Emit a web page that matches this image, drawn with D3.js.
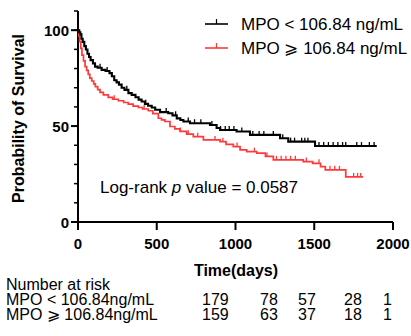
<!DOCTYPE html>
<html>
<head>
<meta charset="utf-8">
<script src="https://cdn.jsdelivr.net/npm/d3@7"></script>
<style>
  body { margin: 0; background: #fff; }
  text { font-family: "Liberation Sans", Arial, sans-serif; fill: #000; }
  .tick-label { font-weight: bold; font-size: 15px; }
  .axis-title { font-weight: bold; font-size: 16px; }
  .risk { font-size: 16px; }
</style>
</head>
<body>
<svg id="chart" width="411" height="336"></svg>
<script>
// Kaplan-Meier steps: [time (days), survival %]
const lowSteps = [
  [0, 100], [8, 98.9], [15, 97.8], [22, 95.5], [30, 93.9], [40, 91.7], [50, 89.9],
  [60, 87.7], [70, 86.0], [80, 84.4], [95, 82.7], [108, 81.0], [125, 80.4],
  [150, 79.3], [175, 78.7], [200, 77.6], [215, 76.0], [230, 73.9], [245, 72.8],
  [260, 71.6], [277, 70.0], [295, 68.9], [320, 67.2], [341, 66.3], [365, 65.0],
  [385, 63.8], [404, 62.8], [425, 61.6], [445, 60.6], [468, 59.7], [490, 58.5],
  [521, 57.3], [573, 56.7], [600, 55.6], [627, 54.0], [650, 53.2], [669, 52.4],
  [711, 51.5], [838, 50.6], [880, 49.0], [902, 48.0], [1007, 47.2], [1092, 45.4],
  [1283, 43.7], [1335, 41.9], [1505, 39.6]
];
const lowEnd = 1897;
const lowCensor = [140, 185, 310, 430, 560, 620, 700, 740, 780, 850, 905, 935, 960,
  990, 1040, 1110, 1150, 1180, 1240, 1300, 1350, 1375, 1420, 1440, 1460, 1530, 1560,
  1590, 1620, 1650, 1680, 1700, 1770, 1800, 1850, 1880];

const highSteps = [
  [0, 100], [5, 97], [10, 94], [18, 90.5], [25, 87], [35, 84], [45, 81], [55, 79],
  [65, 77], [75, 75], [87, 73.5], [100, 72], [110, 70.6], [125, 69], [140, 67.6],
  [161, 66.3], [192, 65], [220, 64], [256, 63.2], [290, 62.3], [319, 61.4],
  [350, 60.4], [383, 59.7], [410, 58.9], [446, 58.0], [475, 56.5], [510, 54.1],
  [530, 53.2], [552, 52.4], [584, 49.8], [615, 48.5], [648, 47.2], [690, 45.8],
  [732, 44.5], [796, 42.8], [902, 41.9], [940, 40.5], [986, 39.3], [1029, 37.6],
  [1071, 36.7], [1135, 35.9], [1190, 34.2], [1240, 32.4], [1430, 31.5],
  [1490, 30.6], [1540, 28.9], [1570, 27.2], [1700, 23.5]
];
const highEnd = 1810;
const highCensor = [230, 420, 650, 700, 760, 870, 920, 1010, 1120, 1200, 1260, 1290,
  1320, 1350, 1380, 1450, 1530, 1600, 1630, 1660, 1750, 1775, 1795];

const xTicks = [0, 500, 1000, 1500, 2000];
const yTicks = [0, 50, 100];
const yMinor = d3.range(0, 111, 10);

const legendLabels = ["MPO < 106.84 ng/mL", "MPO \u2A7E 106.84 ng/mL"];
const riskRows = ["MPO < 106.84ng/mL", "MPO \u2A7E 106.84ng/mL"];
const riskLow = [179, 78, 57, 28, 1];
const riskHigh = [159, 63, 37, 18, 1];

const colors = ["#000000", "#ff3838"];

const svg = d3.select("#chart");

const x = d3.scaleLinear().domain([0, 2000]).range([78, 393]);
const y = d3.scaleLinear().domain([0, 110]).range([222, 11]);

// axes
const yAxis = svg.append("g").attr("transform", `translate(${x(0)},0)`);
yAxis.append("line")
  .attr("y1", y(0)).attr("y2", y(110))
  .attr("stroke", "#000").attr("stroke-width", 2);
yAxis.selectAll(".minor")
  .data(yMinor)
  .enter().append("line")
  .attr("x1", -4).attr("x2", 0)
  .attr("y1", d => y(d)).attr("y2", d => y(d))
  .attr("stroke", "#000").attr("stroke-width", 1.5);
yAxis.selectAll(".major")
  .data(yTicks)
  .enter().append("line")
  .attr("x1", -7).attr("x2", 0)
  .attr("y1", d => y(d)).attr("y2", d => y(d))
  .attr("stroke", "#000").attr("stroke-width", 2);
yAxis.selectAll(".ylab")
  .data(yTicks)
  .enter().append("text")
  .attr("class", "tick-label")
  .attr("x", -9)
  .attr("y", d => y(d) + 5.5)
  .attr("text-anchor", "end")
  .text(d => d);

const xAxis = svg.append("g").attr("transform", `translate(0,${y(0)})`);
xAxis.append("line")
  .attr("x1", x(0) - 1).attr("x2", x(2000))
  .attr("stroke", "#000").attr("stroke-width", 2);
xAxis.selectAll(".xt")
  .data(xTicks)
  .enter().append("line")
  .attr("x1", d => x(d)).attr("x2", d => x(d))
  .attr("y1", 0).attr("y2", 8)
  .attr("stroke", "#000").attr("stroke-width", 2);
xAxis.selectAll(".xlab")
  .data(xTicks)
  .enter().append("text")
  .attr("class", "tick-label")
  .attr("x", d => x(d))
  .attr("y", 27)
  .attr("text-anchor", "middle")
  .text(d => d);

svg.append("text")
  .attr("class", "axis-title")
  .attr("transform", `translate(24,${y(54)}) rotate(-90)`)
  .attr("text-anchor", "middle")
  .text("Probability of Survival");

svg.append("text")
  .attr("class", "axis-title")
  .attr("x", 236).attr("y", 276)
  .attr("text-anchor", "middle")
  .text("Time(days)");

// curves
const stepLine = d3.line()
  .x(d => x(d[0]))
  .y(d => y(d[1]))
  .curve(d3.curveStepAfter);

function survivalAt(steps, t) {
  const i = d3.bisector(d => d[0]).right(steps, t) - 1;
  return steps[Math.max(0, i)][1];
}

function drawCurve(steps, end, censor, color, width) {
  const pts = steps.concat([[end, steps[steps.length - 1][1]]]);
  svg.append("path")
    .datum(pts)
    .attr("fill", "none")
    .attr("stroke", color)
    .attr("stroke-width", width)
    .attr("d", stepLine);
  svg.append("g").selectAll("line")
    .data(censor)
    .enter().append("line")
    .attr("x1", d => x(d)).attr("x2", d => x(d))
    .attr("y1", d => y(survivalAt(steps, d)))
    .attr("y2", d => y(survivalAt(steps, d)) - 4)
    .attr("stroke", color)
    .attr("stroke-width", 1.3);
}

drawCurve(highSteps, highEnd, highCensor, colors[1], 1.7);
drawCurve(lowSteps, lowEnd, lowCensor, colors[0], 2.1);

// legend
const legend = svg.append("g").selectAll("g")
  .data(legendLabels)
  .enter().append("g")
  .attr("transform", (d, i) => `translate(205,${24 + i * 24})`);
legend.append("line")
  .attr("x1", 0).attr("x2", 23)
  .attr("stroke", (d, i) => colors[i]).attr("stroke-width", 1.6);
legend.append("line")
  .attr("x1", 11.5).attr("x2", 11.5).attr("y1", 0).attr("y2", -5)
  .attr("stroke", (d, i) => colors[i]).attr("stroke-width", 1.2);
legend.append("text")
  .attr("x", 36).attr("y", 6)
  .style("font-size", "17px")
  .text(d => d);

svg.append("text")
  .attr("x", 100).attr("y", 193)
  .style("font-size", "17px")
  .html('Log-rank <tspan font-style="italic">p</tspan> value = 0.0587');

// number at risk table
const riskX = [202, 260, 298, 344, 383];
svg.append("text")
  .attr("class", "risk")
  .attr("x", 6).attr("y", 290)
  .text("Number at risk");

[riskLow, riskHigh].forEach((row, r) => {
  const yy = 305 + r * 15;
  svg.append("text")
    .attr("class", "risk")
    .attr("x", 6).attr("y", yy)
    .text(riskRows[r]);
  svg.append("g").selectAll("text")
    .data(row)
    .enter().append("text")
    .attr("class", "risk")
    .attr("x", (d, i) => riskX[i])
    .attr("y", yy)
    .text(d => d);
});
</script>
</body>
</html>
